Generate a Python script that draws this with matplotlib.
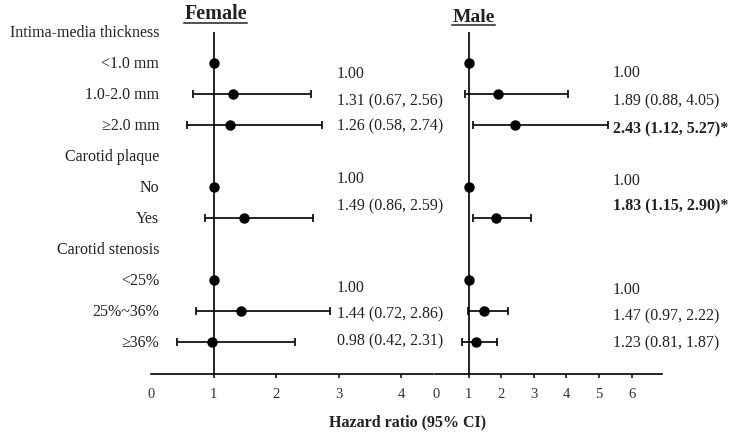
import matplotlib
matplotlib.use("Agg")
import matplotlib.pyplot as plt
from matplotlib.lines import Line2D

plt.rcParams['font.family'] = ['Liberation Serif', 'DejaVu Serif']

# rows, top to bottom (None = group header)
row_labels = ["Intima-media thickness", "<1.0 mm", "1.0-2.0 mm", "\u22652.0 mm",
              "Carotid plaque", "No", "Yes",
              "Carotid stenosis", "<25%", "25%~36%", "\u226536%"]

# female hazard ratios (None = reference group, no CI)
female_hr = [None, 1.00, 1.31, 1.26, None, 1.00, 1.49, None, 1.00, 1.44, 0.98]
female_lo = [None, None, 0.67, 0.58, None, None, 0.86, None, None, 0.72, 0.42]
female_hi = [None, None, 2.56, 2.74, None, None, 2.59, None, None, 2.86, 2.31]
female_sig = [False] * 11

male_hr = [None, 1.00, 1.89, 2.43, None, 1.00, 1.83, None, 1.00, 1.47, 1.23]
male_lo = [None, None, 0.88, 1.12, None, None, 1.15, None, None, 0.97, 0.81]
male_hi = [None, None, 4.05, 5.27, None, None, 2.90, None, None, 2.22, 1.87]
male_sig = [False, False, False, True, False, False, True, False, False, False, False]

female_ticks = [0, 1, 2, 3, 4]
male_ticks = [0, 1, 2, 3, 4, 5, 6]

# layout: vertical nudges of the value labels (row units), as in the original
female_txt_dy = [0, 0.26, 0.13, -0.06, 0, -0.35, -0.48, 0, 0.16, 0.0, -0.13]
male_txt_dy = [0, 0.23, 0.13, 0.03, 0, -0.29, -0.48, 0, 0.23, 0.07, -0.06]

W, H = 737, 440
fig = plt.figure(figsize=(W / 100, H / 100), dpi=100)
TXT = '#222222'
FS = 11.5


def px_axes(x0, x1):
    # axes spanning pixel columns x0..x1, bottom at 374px, 31px per row
    return fig.add_axes([x0 / W, (H - 374) / H, (x1 - x0) / W, 372 / H])


def draw_panel(ax, hr, lo, hi, sig, dy, xlim, ticks, txt_x):
    ax.set_xlim(*xlim)
    ax.set_ylim(11, -1)
    for s in ['top', 'right', 'left']:
        ax.spines[s].set_visible(False)
    ax.spines['bottom'].set_linewidth(1.2)
    ax.set_yticks([])
    ax.set_xticks(ticks)
    ax.set_xticklabels([str(t) for t in ticks])
    ax.tick_params(axis='x', direction='out', length=3, width=1.1, pad=7,
                   labelsize=10.5, labelcolor='#333333')
    ax.xaxis.get_major_ticks()[0].tick1line.set_visible(False)
    ax.patch.set_alpha(0)
    ax.vlines(1, -0.03, 11, color='black', lw=1.2, clip_on=False)
    for i in range(len(hr)):
        if hr[i] is None:
            continue
        if lo[i] is None:
            ax.plot(hr[i], i - 0.03, 'o', color='black', ms=6.5, clip_on=False)
            txt = f"{hr[i]:.2f}"
        else:
            ax.errorbar(hr[i], i - 0.03, xerr=[[hr[i] - lo[i]], [hi[i] - hr[i]]], fmt='o',
                        color='black', ms=6.5, elinewidth=1.2, capsize=3, capthick=1.2,
                        clip_on=False)
            txt = f"{hr[i]:.2f} ({lo[i]:.2f}, {hi[i]:.2f})"
        if sig[i]:
            txt += "*"
        ax.text(txt_x, i + dy[i], txt, ha='left', va='center_baseline', fontsize=FS,
                color=TXT, fontweight='bold' if sig[i] else 'normal', clip_on=False)


ax_f = px_axes(151, 433)
ax_m = px_axes(435, 662)
draw_panel(ax_f, female_hr, female_lo, female_hi, female_sig, female_txt_dy,
           (0, 4.51), female_ticks, 2.976)
draw_panel(ax_m, male_hr, male_lo, male_hi, male_sig, male_txt_dy,
           (-0.03, 6.93), male_ticks, 5.43)

for i, lab in enumerate(row_labels):
    ax_f.text(0.13, i - 0.05, lab, ha='right', va='center_baseline', fontsize=FS,
              color=TXT, clip_on=False)

t_f = ax_f.text(1.04, -0.69, "Female", ha='center', va='center_baseline', fontsize=14.5,
                fontweight='bold', color=TXT, clip_on=False)
t_m = ax_m.text(1.17, -0.56, "Male", ha='center', va='center_baseline', fontsize=14,
                fontweight='bold', color=TXT, clip_on=False)

fig.text(408 / W, 1 - 420 / H, "Hazard ratio (95% CI)", ha='center', va='center_baseline',
         fontsize=FS, fontweight='bold', color=TXT)

# underline the panel titles
fig.canvas.draw()
for t in (t_f, t_m):
    bb = t.get_window_extent()
    y = bb.y0 + 1.5
    fig.add_artist(Line2D([(bb.x0 - 1) / W, (bb.x1) / W], [y / H, y / H],
                          transform=fig.transFigure, color=TXT, lw=1.1))

fig.savefig("out.png", dpi=100)
